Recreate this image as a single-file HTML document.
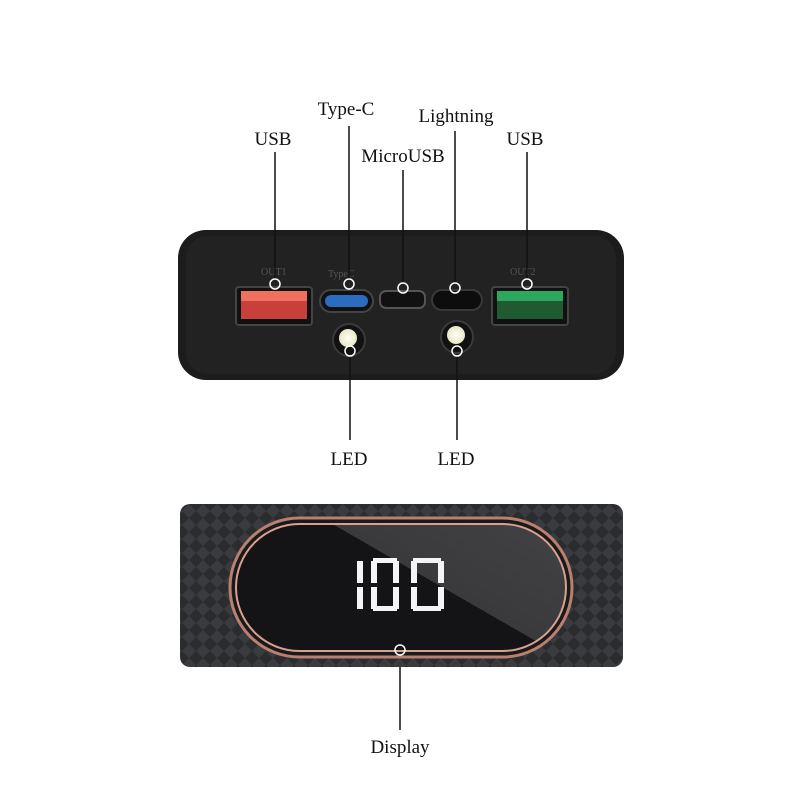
<!DOCTYPE html>
<html><head><meta charset="utf-8"><style>
html,body{margin:0;padding:0;background:#fff;}
svg{display:block}
text{font-family:"Liberation Serif",serif;font-size:19px;fill:#111;}
</style></head><body>
<svg width="800" height="800" viewBox="0 0 800 800" xmlns="http://www.w3.org/2000/svg">
<defs>
<linearGradient id="scr" gradientUnits="userSpaceOnUse" x1="320" y1="783" x2="550" y2="383">
<stop offset="0" stop-color="#141416"/><stop offset="0.5" stop-color="#141416"/><stop offset="0.5" stop-color="#3a3a3c"/><stop offset="1" stop-color="#4a4a4c"/>
</linearGradient>
<radialGradient id="led"><stop offset="0" stop-color="#fffff4"/><stop offset="1" stop-color="#e8e6c8"/></radialGradient>
<pattern id="carbon" width="14" height="14" patternUnits="userSpaceOnUse">
<rect width="14" height="14" fill="#2b2c2e"/><path d="M0 7 L7 0 L14 7 L7 14Z" fill="#3a3b3e"/>
</pattern>
</defs>
<rect x="178" y="230" width="446" height="150" rx="28" fill="#1c1c1d"/>
<rect x="186" y="236" width="430" height="138" rx="22" fill="#222223"/>
<text x="261" y="275" style="font-size:10px;fill:#555">OUT1</text>
<text x="328" y="277" style="font-size:10px;fill:#555">TypeC</text>
<text x="510" y="275" style="font-size:10px;fill:#555">OUT2</text>
<rect x="236" y="287" width="76" height="38" rx="3" fill="#111" stroke="#444" stroke-width="2"/>
<rect x="241" y="291" width="66" height="28" fill="#c8403a"/>
<rect x="241" y="291" width="66" height="10" fill="#f07060"/>
<rect x="320" y="290" width="53" height="22" rx="11" fill="#111" stroke="#444" stroke-width="2"/>
<rect x="325" y="295" width="43" height="12" rx="6" fill="#2a6cc0"/>
<rect x="380" y="291" width="45" height="17" rx="6" fill="#111" stroke="#555" stroke-width="2"/>
<rect x="432" y="290" width="50" height="20" rx="10" fill="#0d0d0d" stroke="#3a3a3a" stroke-width="2"/>
<rect x="492" y="287" width="76" height="38" rx="3" fill="#111" stroke="#444" stroke-width="2"/>
<rect x="497" y="291" width="66" height="28" fill="#1f5a30"/>
<rect x="497" y="291" width="66" height="10" fill="#2aa860"/>
<circle cx="349" cy="340" r="16" fill="#111" stroke="#3a3a3a" stroke-width="2"/>
<circle cx="348" cy="338" r="9" fill="url(#led)"/>
<circle cx="457" cy="337" r="16" fill="#111" stroke="#3a3a3a" stroke-width="2"/>
<circle cx="456" cy="335" r="9" fill="url(#led)"/>
<g stroke="#111" stroke-width="1.5" fill="none">
<line x1="275" y1="152" x2="275" y2="279"/>
<line x1="349" y1="126" x2="349" y2="279"/>
<line x1="403" y1="170" x2="403" y2="283"/>
<line x1="455" y1="131" x2="455" y2="283"/>
<line x1="527" y1="152" x2="527" y2="279"/>
<line x1="350" y1="356" x2="350" y2="440"/>
<line x1="457" y1="356" x2="457" y2="440"/>
<line x1="400" y1="655" x2="400" y2="730"/>
</g>
<g stroke="#fff" stroke-width="1.5" fill="none">
<circle cx="275" cy="284" r="5"/>
<circle cx="349" cy="284" r="5"/>
<circle cx="403" cy="288" r="5"/>
<circle cx="455" cy="288" r="5"/>
<circle cx="527" cy="284" r="5"/>
<circle cx="350" cy="351" r="5"/>
<circle cx="457" cy="351" r="5"/>
</g>
<text x="273" y="145" text-anchor="middle">USB</text>
<text x="346" y="115" text-anchor="middle">Type-C</text>
<text x="403" y="162" text-anchor="middle">MicroUSB</text>
<text x="456" y="122" text-anchor="middle">Lightning</text>
<text x="525" y="145" text-anchor="middle">USB</text>
<text x="349" y="465" text-anchor="middle">LED</text>
<text x="456" y="465" text-anchor="middle">LED</text>
<rect x="180" y="504" width="443" height="163" rx="10" fill="url(#carbon)"/>
<rect x="230" y="518" width="342" height="139" rx="69.5" fill="#1a1a1a" stroke="#b88070" stroke-width="3"/>
<rect x="236" y="524" width="330" height="127" rx="63.5" fill="url(#scr)" stroke="#d8a090" stroke-width="2"/>
<g fill="#f4f4f4">
<rect x="357" y="561" width="6" height="22"/><rect x="357" y="587" width="6" height="22"/>
<rect x="373" y="558" width="24" height="5"/><rect x="373" y="606" width="24" height="5"/>
<rect x="371" y="561" width="6" height="22"/><rect x="371" y="587" width="6" height="22"/>
<rect x="393" y="561" width="6" height="22"/><rect x="393" y="587" width="6" height="22"/>
<rect x="413" y="558" width="28" height="5"/><rect x="413" y="606" width="28" height="5"/>
<rect x="411" y="561" width="6" height="22"/><rect x="411" y="587" width="6" height="22"/>
<rect x="438" y="561" width="6" height="22"/><rect x="438" y="587" width="6" height="22"/>
</g>
<circle cx="400" cy="650" r="5" fill="none" stroke="#fff" stroke-width="1.5"/>
<text x="400" y="753" text-anchor="middle">Display</text>
</svg>
</body></html>
